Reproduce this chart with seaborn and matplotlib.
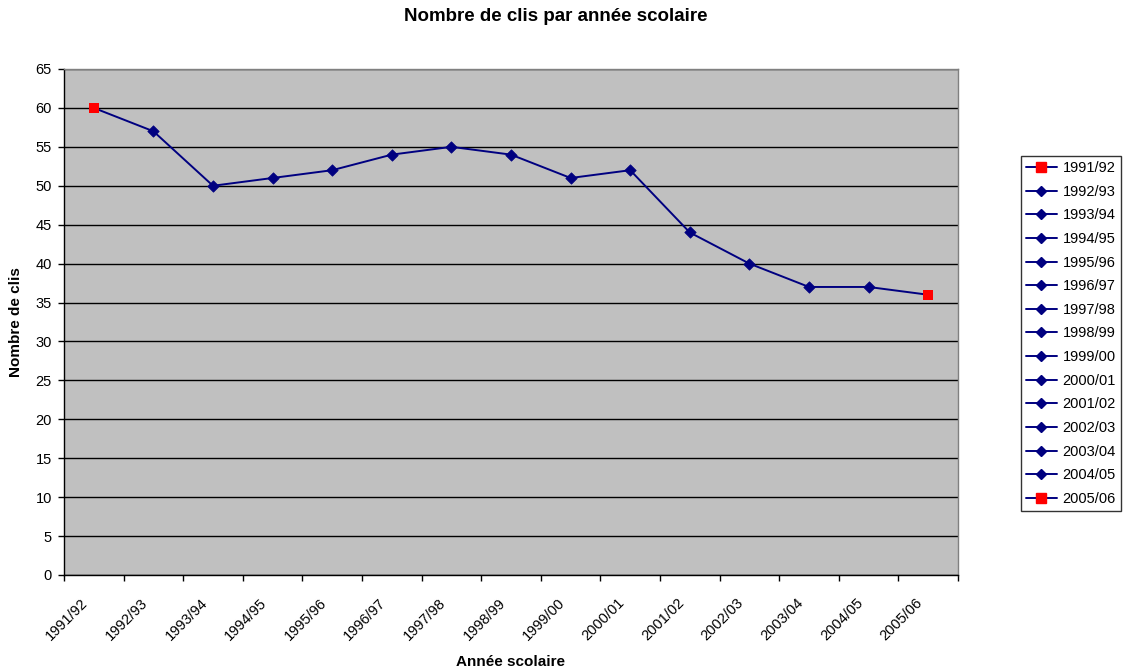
import matplotlib
matplotlib.use("Agg")
import matplotlib.pyplot as plt
from matplotlib.lines import Line2D
from matplotlib.transforms import ScaledTranslation
import seaborn as sns
import pandas as pd
import numpy as np

years = ["1991/92", "1992/93", "1993/94", "1994/95", "1995/96", "1996/97", "1997/98",
         "1998/99", "1999/00", "2000/01", "2001/02", "2002/03", "2003/04", "2004/05", "2005/06"]
counts = [60, 57, 50, 51, 52, 54, 55, 54, 51, 52, 44, 40, 37, 37, 36]

sns.set_style("white")
plt.rcParams['font.family'] = ['Liberation Sans', 'DejaVu Sans']
for k in ["text.color", "axes.labelcolor", "xtick.color", "ytick.color"]:
    plt.rcParams[k] = "black"

df = pd.DataFrame({"pos": np.arange(len(years)), "year": years, "count": counts})

fig = plt.figure(figsize=(11.28, 6.71), dpi=100)
ax = fig.add_axes([64/1128, 1-575/671, (958-64)/1128, (575-69)/671])
ax.set_facecolor("#C0C0C0")

navy = "#000080"
red = "#FF0000"
sns.lineplot(data=df, x="pos", y="count", ax=ax, color=navy, linewidth=1.4, zorder=3)
mid = df.iloc[1:len(df)-1]
sns.scatterplot(data=mid, x="pos", y="count", ax=ax, marker="D", s=34, color=navy,
                edgecolor=navy, linewidth=0.5, zorder=4)
ends = df.iloc[[0, len(df)-1]]
sns.scatterplot(data=ends, x="pos", y="count", ax=ax, marker="s", s=45, color=red,
                edgecolor=red, linewidth=0, zorder=4)

ax.set_xlim(-0.5, len(years)-0.5)
ax.set_ylim(0, 65)
ax.set_yticks(np.arange(0, 66, 5))
ax.yaxis.grid(True, color="black", linewidth=1.0)
ax.set_axisbelow(True)

ax.set_xticks(np.arange(-0.5, len(years), 1.0))
ax.set_xticklabels([])
ax.set_xticks(np.arange(len(years)), minor=True)
ax.set_xticklabels(years, minor=True, rotation=45, ha="right", va="top")
ax.tick_params(axis="x", which="major", length=4, width=1, color="black", direction="out")
ax.tick_params(axis="x", which="minor", length=0, pad=15, labelsize=10.5)
ax.tick_params(axis="y", length=4.3, width=1, color="black", direction="out", labelsize=10.5, pad=4.5)
ax.tick_params(bottom=True, left=True)
shift = ScaledTranslation(-3/100, 0, fig.dpi_scale_trans)
for lab in ax.get_xticklabels(minor=True):
    lab.set_transform(lab.get_transform() + shift)

for s in ["left", "bottom"]:
    ax.spines[s].set_color("black")
    ax.spines[s].set_linewidth(1.0)
for s in ["top", "right"]:
    ax.spines[s].set_color("#808080")
    ax.spines[s].set_linewidth(1.0)

ax.set_xlabel("Année scolaire", fontsize=11, fontweight="bold")
ax.xaxis.label.set_va("baseline")
ax.xaxis.set_label_coords(0.5, (575-666)/506)
ax.set_ylabel("Nombre de clis", fontsize=11, fontweight="bold")
ax.yaxis.set_label_coords(-(64-23)/894, 0.5)
fig.text(556/1128, 1-21/671, "Nombre de clis par année scolaire", fontsize=13.5,
         fontweight="bold", ha="center", va="baseline")

handles = []
for i, y in enumerate(years):
    if i == 0 or i == len(years)-1:
        h = Line2D([0], [0], color=navy, linewidth=1.4, marker="s", markersize=6.5,
                   markerfacecolor=red, markeredgecolor=red)
    else:
        h = Line2D([0], [0], color=navy, linewidth=1.4, marker="D", markersize=5,
                   markerfacecolor=navy, markeredgecolor=navy)
    handles.append(h)
leg = fig.legend(handles, years, loc="upper left", bbox_to_anchor=(1021/1128, 1-156/671),
                 frameon=True, fancybox=False, edgecolor="black", fontsize=10.5,
                 handlelength=2.1, labelspacing=0.66, borderpad=0.35, handletextpad=0.4,
                 borderaxespad=0)
leg.get_frame().set_linewidth(1.0)

fig.savefig("out.png", dpi=100)
